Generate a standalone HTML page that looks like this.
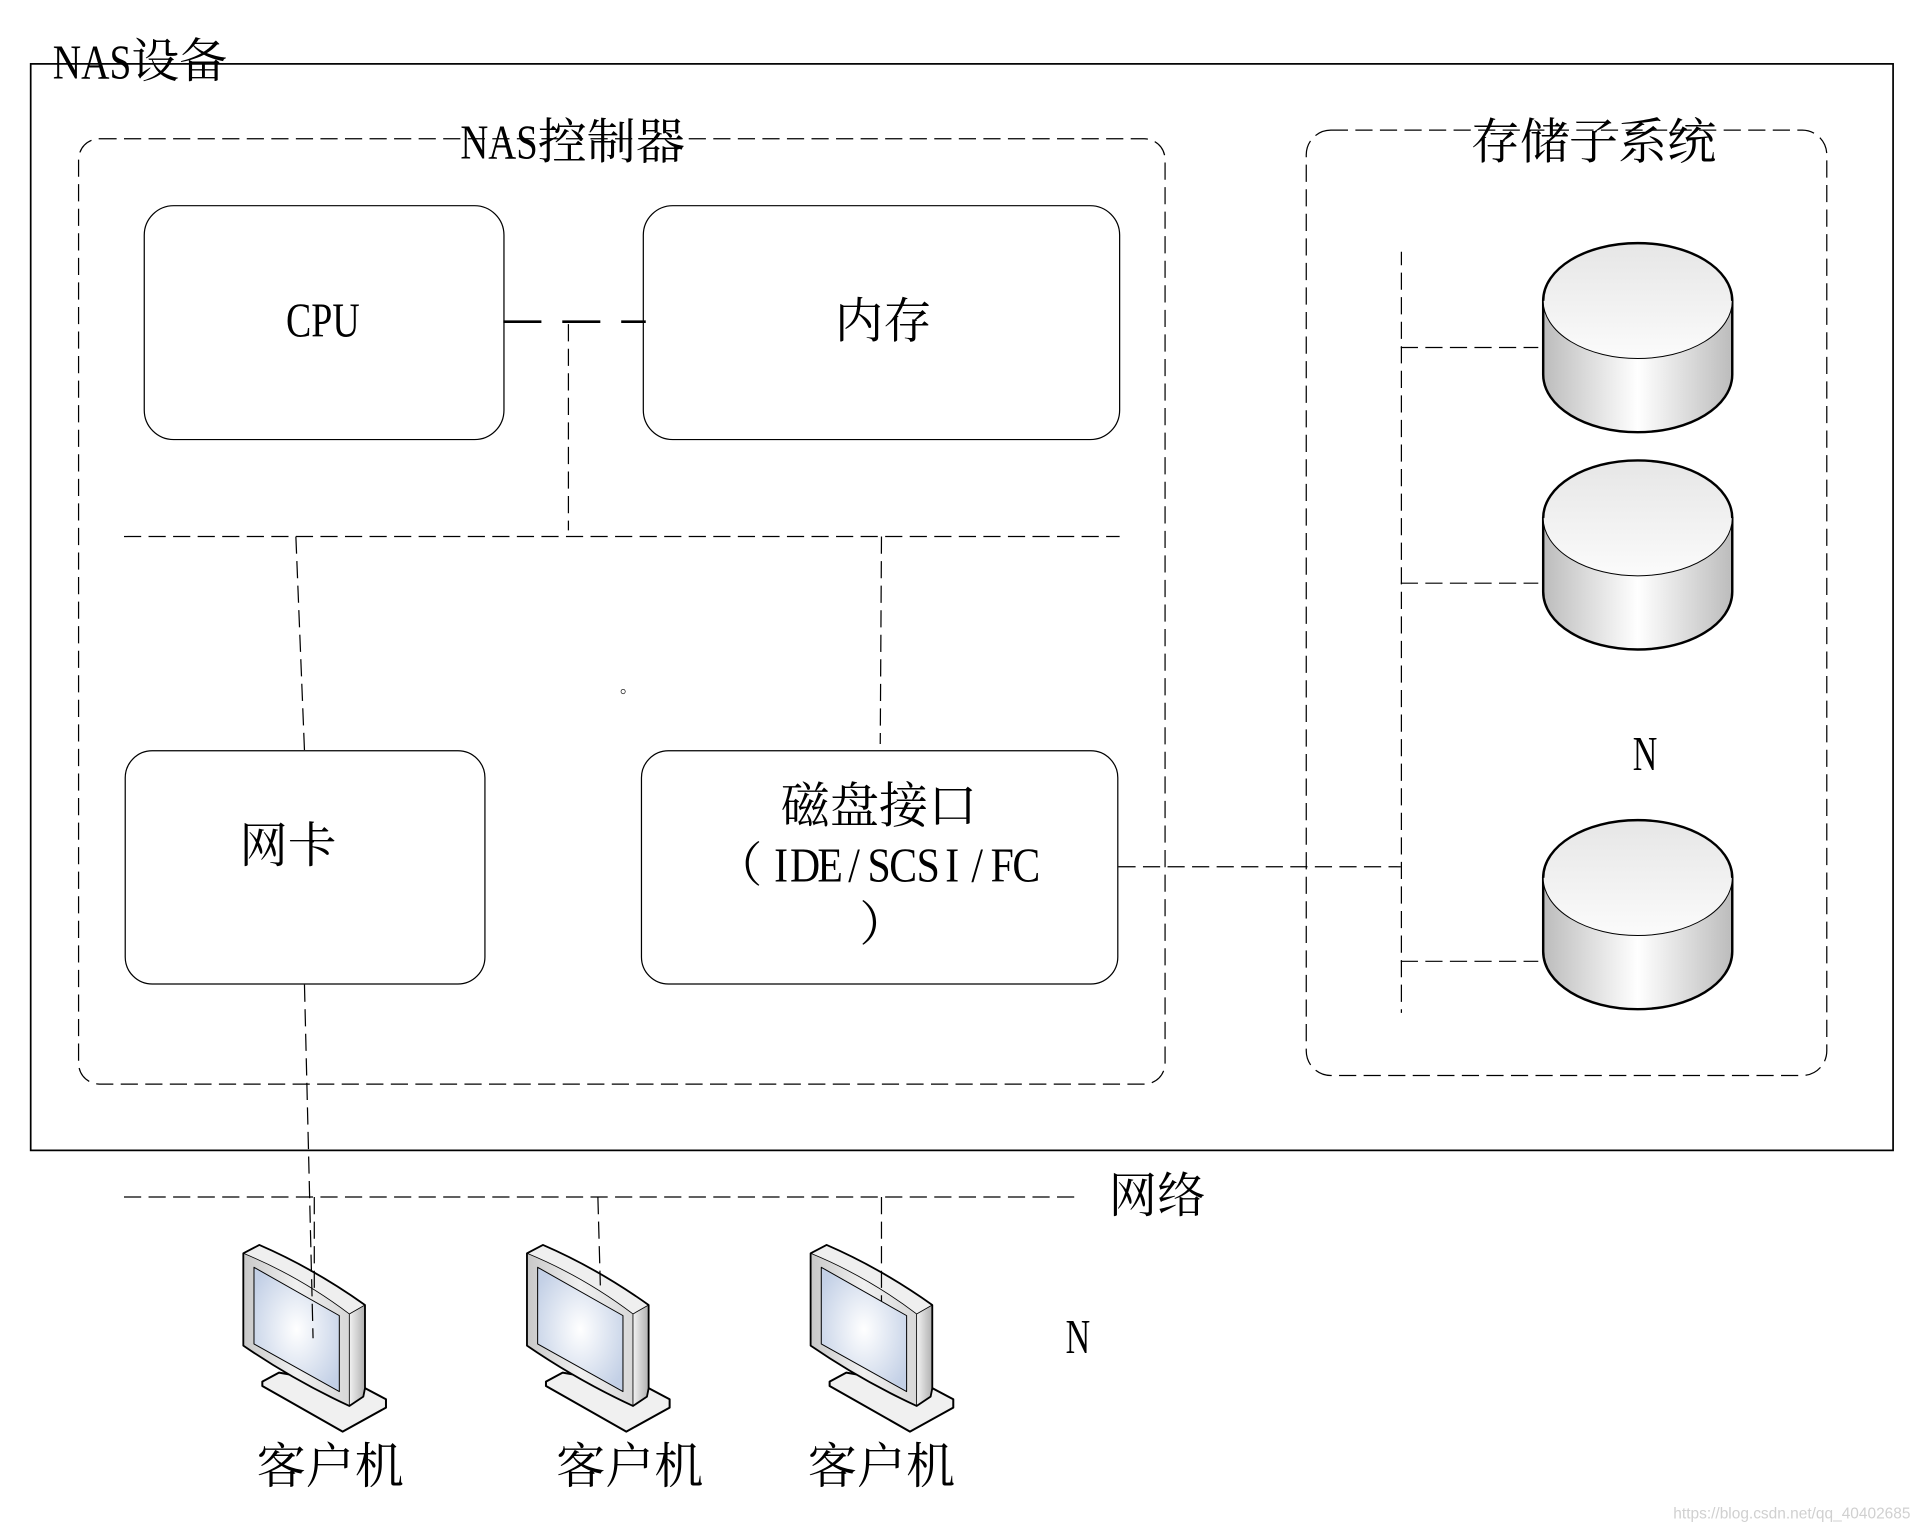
<!DOCTYPE html>
<html><head><meta charset="utf-8">
<style>
html,body{margin:0;padding:0;background:#fff;width:1925px;height:1531px;overflow:hidden}
svg{display:block}
text{font-family:"Noto Serif CJK SC","Liberation Serif",serif;fill:#000}
.l{font-family:"Liberation Serif",serif;font-size:40px}
.c{font-size:39px}
.d{fill:none;stroke:#000;stroke-width:1;stroke-dasharray:14 6}
.s{fill:#fff;stroke:#000;stroke-width:1}
</style></head><body>
<svg width="1925" height="1531" viewBox="0 0 1568 1247" xmlns="http://www.w3.org/2000/svg">
<defs>
<linearGradient id="cb" x1="0" x2="1" y1="0" y2="0"><stop offset="0" stop-color="#bcbcbc"/><stop offset=".5" stop-color="#fff"/><stop offset="1" stop-color="#bcbcbc"/></linearGradient>
<linearGradient id="ct" x1="0" x2="0" y1="0" y2="1"><stop offset="0" stop-color="#e6e6e6"/><stop offset="1" stop-color="#fbfbfb"/></linearGradient>
<linearGradient id="mb" x1="0" x2="1" y1="0" y2="0"><stop offset="0" stop-color="#c8c8c8"/><stop offset=".5" stop-color="#f0f0f0"/><stop offset="1" stop-color="#d8d8d8"/></linearGradient>
<linearGradient id="ms" x1="0" x2="1" y1="0" y2="0"><stop offset="0" stop-color="#f2f2f2"/><stop offset="1" stop-color="#b0b0b0"/></linearGradient>
<radialGradient id="sc" cx=".5" cy=".5" r=".6"><stop offset="0" stop-color="#fff"/><stop offset="1" stop-color="#c3d0e6"/></radialGradient>
<g id="cyl">
<path d="M0 47V107C0 133 34 154 77 154S154 133 154 107V47Z" fill="url(#cb)" stroke="#000" stroke-width="2"/>
<ellipse cx="77" cy="47" rx="77" ry="47" fill="url(#ct)" stroke="#000" stroke-width=".8"/>
<path d="M0 47C0 21 34 0 77 0S154 21 154 47" fill="none" stroke="#000" stroke-width="2"/>
</g>
<g id="mon" stroke-linejoin="round">
<path d="M237 578L187 605V618L428 755L558 683V658L490 622Z" fill="#f0f0f0" stroke="#000" stroke-width="6"/>
<path d="M448 402L495 375V625L490 650L448 678Z" fill="url(#ms)"/>
<path d="M130 220L178 195Q340 265 495 375L448 402Q300 290 130 220Z" fill="#efefef"/>
<path d="M130 220Q300 290 448 402V678Q280 600 130 497Z" fill="url(#mb)"/>
<path d="M130 220Q300 290 448 402V678M448 402L495 375" fill="none" stroke="#000" stroke-width="2.500"/>
<path d="M162 262L418 407V635L162 492Z" fill="url(#sc)" stroke="#000" stroke-width="3"/>
<path d="M130 220L178 195Q340 265 495 375V625L490 650L448 678Q280 600 130 497Z" fill="none" stroke="#000" stroke-width="5.500"/>
</g>
</defs>
<rect width="1568" height="1247" fill="#fff"/>

<rect x="25" y="52" width="1517" height="885" fill="none" stroke="#000" stroke-width="1.4"/>
<rect x="64" y="113" width="885" height="770" rx="17" class="d"/>
<rect x="1064" y="106" width="424" height="770" rx="20" class="d"/>

<rect x="117.500" y="167.500" width="293" height="190.500" rx="24" class="s"/>
<rect x="524" y="167.500" width="388" height="190.500" rx="24" class="s"/>
<rect x="102" y="611.500" width="293" height="190" rx="22" class="s"/>
<rect x="522.500" y="611.500" width="388" height="190" rx="22" class="s"/>

<line x1="410" y1="262" x2="526" y2="262" stroke="#000" stroke-width="2.2" stroke-dasharray="31 17"/>
<line x1="463" y1="264" x2="463" y2="432" class="d"/>
<line x1="101" y1="437" x2="912" y2="437" class="d"/>
<line x1="241" y1="437" x2="248" y2="611" class="d"/>
<line x1="718" y1="437" x2="717" y2="606" class="d"/>
<line x1="911" y1="706" x2="1141" y2="706" class="d"/>
<line x1="1141.500" y1="205" x2="1141.500" y2="825" class="d" stroke-dashoffset="3"/>
<line x1="1141" y1="283" x2="1253" y2="283" class="d"/>
<line x1="1141" y1="475" x2="1253" y2="475" class="d"/>
<line x1="1141" y1="783" x2="1253" y2="783" class="d"/>

<use href="#cyl" x="1257" y="198"/>
<use href="#cyl" x="1257" y="375"/>
<use href="#cyl" x="1257" y="668"/>

<line x1="101" y1="975" x2="875" y2="975" class="d"/>

<g transform="translate(162.900,961.100) scale(.2715)">
<use href="#mon"/>
<use href="#mon" x="851"/>
<use href="#mon" x="1702"/>
</g>

<line x1="248" y1="802" x2="255" y2="1090" class="d"/>
<line x1="256" y1="975" x2="256" y2="1050" class="d"/>
<line x1="487" y1="975" x2="489" y2="1047" class="d"/>
<line x1="718" y1="975" x2="718" y2="1060" class="d"/>

<text class="l" x="43" y="64" textLength="64" lengthAdjust="spacingAndGlyphs">NAS</text>
<text class="c" x="107" y="63">设备</text>
<text class="l" x="375" y="129" textLength="63" lengthAdjust="spacingAndGlyphs">NAS</text>
<text class="c" x="438" y="129" style="font-size:40px">控制器</text>
<text class="c" x="1198" y="129" style="font-size:40px">存储子系统</text>
<text class="l" x="233" y="274" textLength="60" lengthAdjust="spacingAndGlyphs">CPU</text>
<text class="c" x="680" y="275" style="font-size:39.500px">内存</text>
<text class="c" x="195" y="702" style="font-size:39.500px">网卡</text>
<text class="c" x="636" y="670" style="font-size:40px">磁盘接口</text>
<text class="c" x="582" y="718">（</text>
<text class="l" transform="translate(626,718) scale(.85,1)" text-anchor="middle" x="12 35 59 82 106 129 153 176 200 224 247">IDE/SCSI/FC</text>
<text class="c" x="700" y="766">）</text>
<text class="l" x="1330" y="627" textLength="20" lengthAdjust="spacingAndGlyphs">N</text>
<text class="l" x="868" y="1102" textLength="20" lengthAdjust="spacingAndGlyphs">N</text>
<text class="c" x="903" y="987" style="font-size:39.500px">网络</text>
<text class="c" x="209" y="1208" style="font-size:40px">客户机</text>
<text class="c" x="453" y="1208" style="font-size:40px">客户机</text>
<text class="c" x="658" y="1208" style="font-size:40px">客户机</text>
<text x="505" y="564" style="font-size:14px">。</text>
<text x="1363" y="1237" style="font-family:'Liberation Sans',sans-serif;font-size:12.600px;fill:#d0d0d0">https://blog.csdn.net/qq_40402685</text>
</svg>
</body></html>
